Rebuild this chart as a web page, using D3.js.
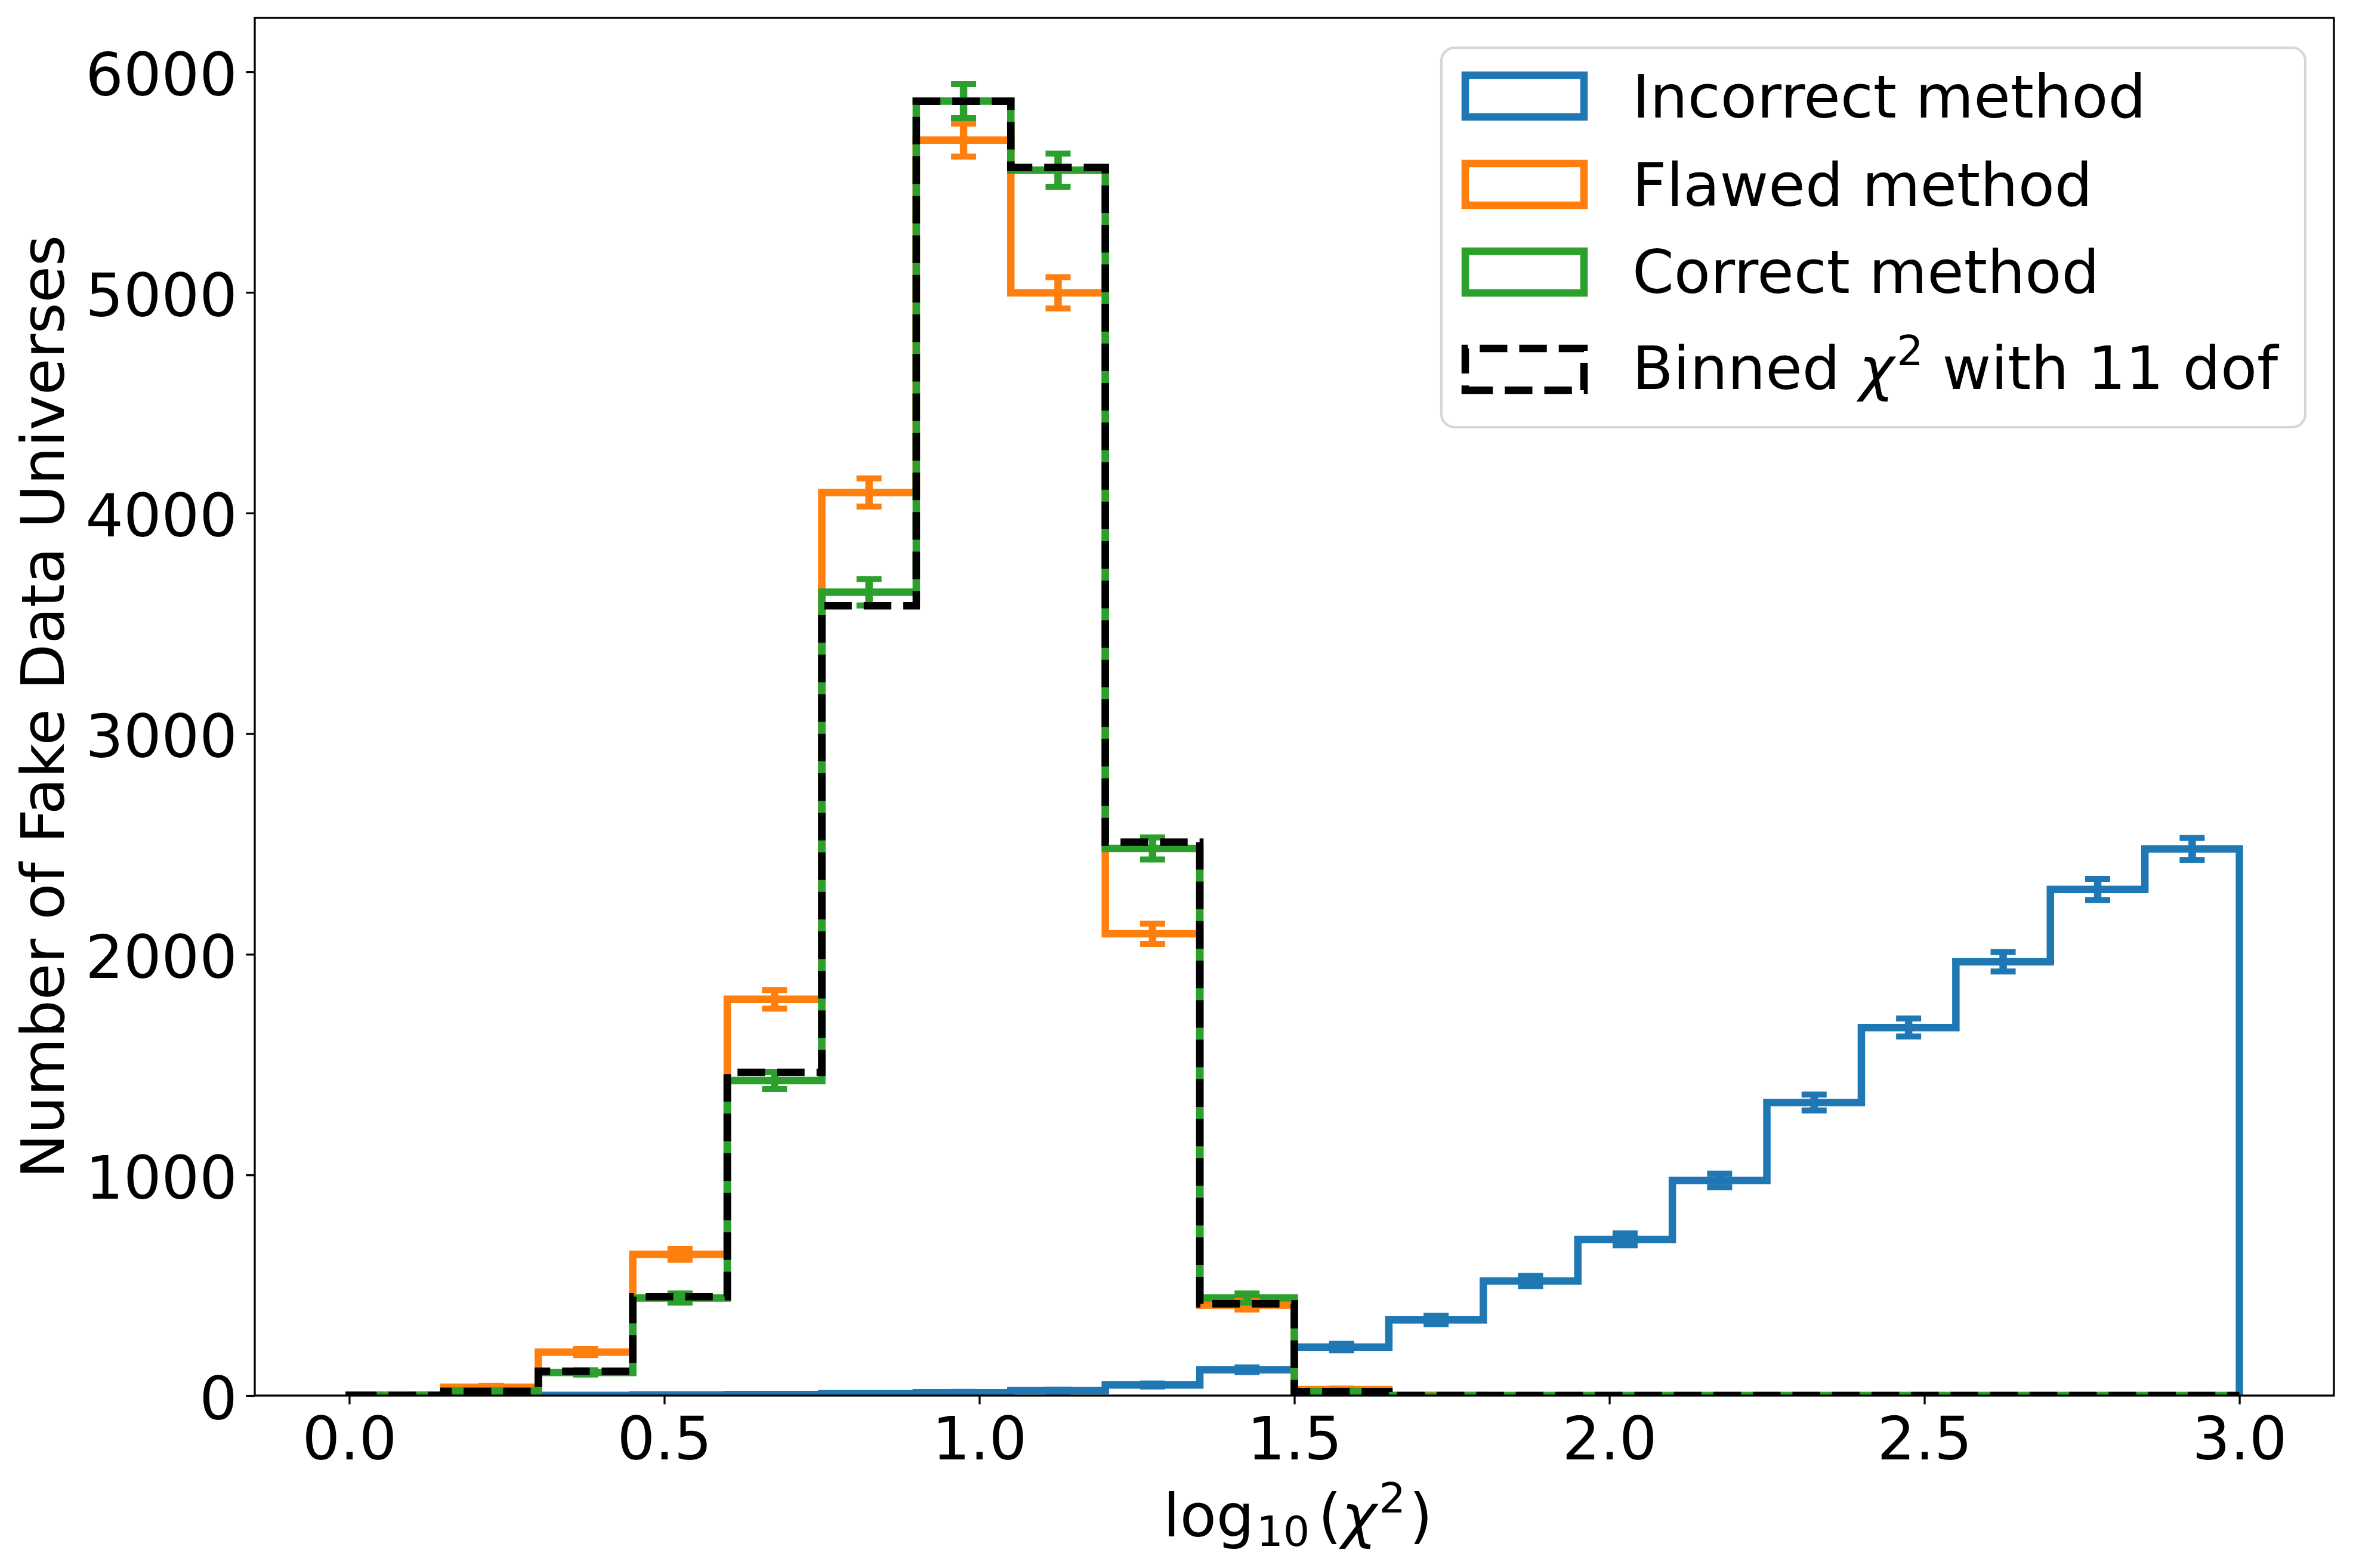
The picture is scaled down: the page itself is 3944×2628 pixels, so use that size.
<!DOCTYPE html>
<html>
<head>
<meta charset="utf-8">
<script src="https://cdn.jsdelivr.net/npm/d3@7"></script>
<style>
  body { margin: 0; background: #fff; }
  svg { display: block; font-family: "DejaVu Sans", sans-serif; }
</style>
</head>
<body>
<div id="chart"></div>
<script>
// bin edges of log10(chi^2)
const binEdges = [0, 0.15, 0.3, 0.45, 0.6, 0.75, 0.9, 1.05, 1.2, 1.35, 1.5,
  1.65, 1.8, 1.95, 2.1, 2.25, 2.4, 2.55, 2.7, 2.85, 3.0];

const incorrectCounts = [0, 0, 1, 3, 5, 8, 13, 22, 48, 117, 220, 343, 519, 708, 975, 1328, 1668, 1966, 2294, 2478];
const incorrectErr = [0, 0, 1, 2, 2, 3, 4, 5, 7, 11, 15, 19, 23, 27, 31, 36, 41, 44, 48, 50];

const flawedCounts = [3, 38, 197, 640, 1796, 4093, 5690, 4998, 2093, 410, 27, 1, 0, 0, 0, 0, 0, 0, 0, 0];
const flawedErr = [2, 6, 14, 25, 42, 64, 75, 71, 46, 20, 5, 1, 0, 0, 0, 0, 0, 0, 0, 0];

const correctCounts = [1, 20, 105, 442, 1428, 3641, 5867, 5554, 2480, 442, 18, 0, 0, 0, 0, 0, 0, 0, 0, 0];
const correctErr = [1, 4, 10, 21, 38, 60, 77, 75, 50, 21, 4, 0, 0, 0, 0, 0, 0, 0, 0, 0];

const binnedCounts = [1, 19, 110, 448, 1465, 3580, 5866, 5566, 2508, 416, 18, 0, 0, 0, 0, 0, 0, 0, 0, 0];

const xTicks = [0, 0.5, 1.0, 1.5, 2.0, 2.5, 3.0];
const yTicks = [0, 1000, 2000, 3000, 4000, 5000, 6000];

const seriesNames = ["Incorrect method", "Flawed method", "Correct method"];
const seriesColors = ["#1f77b4", "#ff7f0e", "#2ca02c"];

const width = 3944;
const height = 2628;
const plot = { left: 427, right: 3912, top: 30, bottom: 2339 };
const lw = 12.5;
const fontSize = 100;

const xScale = d3.scaleLinear().domain([-0.15, 3.15]).range([plot.left, plot.right]);
const yScale = d3.scaleLinear().domain([0, 6244]).range([plot.bottom, plot.top]);

const svg = d3
  .select("#chart")
  .append("svg")
  .attr("width", width)
  .attr("height", height);

svg.append("defs")
  .append("clipPath")
  .attr("id", "plot-clip")
  .append("rect")
  .attr("x", plot.left)
  .attr("y", plot.top)
  .attr("width", plot.right - plot.left)
  .attr("height", plot.bottom - plot.top);

// step outline like a matplotlib "step" histogram
const stepPoints = counts => {
  const pts = [[binEdges[0], 0]];
  counts.forEach((c, i) => {
    pts.push([binEdges[i], c]);
    pts.push([binEdges[i + 1], c]);
  });
  pts.push([binEdges[binEdges.length - 1], 0]);
  return pts;
};

const line = d3.line()
  .x(d => xScale(d[0]))
  .y(d => yScale(d[1]));

const plotArea = svg.append("g").attr("clip-path", "url(#plot-clip)");

const allCounts = [incorrectCounts, flawedCounts, correctCounts];
const allErrs = [incorrectErr, flawedErr, correctErr];

allCounts.forEach((counts, k) => {
  plotArea.append("path")
    .attr("d", line(stepPoints(counts)))
    .attr("fill", "none")
    .attr("stroke", seriesColors[k])
    .attr("stroke-width", lw)
    .attr("stroke-linejoin", "miter");
});

// error bars at bin centres
const capHalf = 21;
allCounts.forEach((counts, k) => {
  const g = plotArea.append("g").attr("stroke", seriesColors[k]);
  const bins = counts.map((c, i) => ({
    cx: (binEdges[i] + binEdges[i + 1]) / 2,
    c,
    e: allErrs[k][i]
  }));
  g.selectAll("line.err")
    .data(bins)
    .enter()
    .append("line")
    .attr("x1", d => xScale(d.cx))
    .attr("x2", d => xScale(d.cx))
    .attr("y1", d => yScale(d.c - d.e))
    .attr("y2", d => yScale(d.c + d.e))
    .attr("stroke-width", lw);
  ["lo", "hi"].forEach(side => {
    g.selectAll("line.cap-" + side)
      .data(bins)
      .enter()
      .append("line")
      .attr("x1", d => xScale(d.cx) - capHalf)
      .attr("x2", d => xScale(d.cx) + capHalf)
      .attr("y1", d => yScale(side === "lo" ? d.c - d.e : d.c + d.e))
      .attr("y2", d => yScale(side === "lo" ? d.c - d.e : d.c + d.e))
      .attr("stroke-width", 10);
  });
});

// expected binned chi2 distribution
plotArea.append("path")
  .attr("d", line(stepPoints(binnedCounts)))
  .attr("fill", "none")
  .attr("stroke", "#000")
  .attr("stroke-width", lw)
  .attr("stroke-dasharray", "46.25,20")
  .attr("stroke-linejoin", "miter");

// axes
const xAxis = d3.axisBottom(xScale)
  .tickValues(xTicks)
  .tickFormat(d3.format(".1f"))
  .tickSize(14.6)
  .tickPadding(14.6);

const yAxis = d3.axisLeft(yScale)
  .tickValues(yTicks)
  .tickFormat(d3.format("d"))
  .tickSize(14.6)
  .tickPadding(14.6);

const gx = svg.append("g")
  .attr("transform", `translate(0,${plot.bottom})`)
  .call(xAxis);
gx.select(".domain").remove();
gx.selectAll("line").attr("stroke-width", 3.3);
gx.selectAll("text")
  .attr("font-size", fontSize)
  .attr("font-family", "DejaVu Sans")
  .attr("fill", "#000")
  .attr("dy", "0.78em");

const gy = svg.append("g")
  .attr("transform", `translate(${plot.left},0)`)
  .call(yAxis);
gy.select(".domain").remove();
gy.selectAll("line").attr("stroke-width", 3.3);
gy.selectAll("text")
  .attr("font-size", fontSize)
  .attr("font-family", "DejaVu Sans")
  .attr("fill", "#000")
  .attr("dy", "0.39em");

// frame
svg.append("rect")
  .attr("x", plot.left)
  .attr("y", plot.top)
  .attr("width", plot.right - plot.left)
  .attr("height", plot.bottom - plot.top)
  .attr("fill", "none")
  .attr("stroke", "#000")
  .attr("stroke-width", 3.3);

// axis labels
svg.append("text")
  .attr("transform", `translate(107,${(plot.top + plot.bottom) / 2}) rotate(-90)`)
  .attr("text-anchor", "middle")
  .attr("font-size", fontSize)
  .text("Number of Fake Data Universes");

const xLabel = svg.append("text")
  .attr("x", (plot.left + plot.right) / 2 + 6)
  .attr("y", 2575)
  .attr("text-anchor", "middle")
  .attr("font-size", fontSize);
xLabel.append("tspan").text("log");
xLabel.append("tspan").attr("dx", 4).attr("dy", 16).attr("font-size", 70).text("10");
xLabel.append("tspan").attr("dx", 14).attr("dy", -16).text("(");
xLabel.append("tspan").attr("font-style", "italic").text("χ");
xLabel.append("tspan").attr("dx", 4).attr("dy", -40).attr("font-size", 70).text("2");
xLabel.append("tspan").attr("dx", 6).attr("dy", 40).text(")");

// legend
const legend = svg.append("g");
legend.append("rect")
  .attr("x", 2416)
  .attr("y", 80)
  .attr("width", 3864 - 2416)
  .attr("height", 716 - 80)
  .attr("rx", 22)
  .attr("fill", "#fff")
  .attr("fill-opacity", 0.8)
  .attr("stroke", "#cccccc")
  .attr("stroke-opacity", 0.8)
  .attr("stroke-width", 4.2);

const legendRows = [
  { name: seriesNames[0], color: seriesColors[0], top: 126, base: 197 },
  { name: seriesNames[1], color: seriesColors[1], top: 274, base: 344.5 },
  { name: seriesNames[2], color: seriesColors[2], top: 421, base: 491 },
  { name: null, color: "#000", top: 584, base: 651.6, dashed: true }
];

legendRows.forEach(r => {
  const x0 = 2456, x1 = 2655, y0 = r.top, y1 = r.top + 70;
  legend.append("path")
    .attr("d", `M${x0},${y1}H${x1}V${y0}H${x0}Z`)
    .attr("fill", "none")
    .attr("stroke", r.color)
    .attr("stroke-width", lw)
    .attr("stroke-linejoin", "miter")
    .attr("stroke-dasharray", r.dashed ? "46.25,20" : null);
  const t = legend.append("text")
    .attr("x", 2736)
    .attr("y", r.base)
    .attr("font-size", fontSize);
  if (r.name) {
    t.text(r.name);
  } else {
    t.append("tspan").text("Binned ");
    t.append("tspan").attr("font-style", "italic").text("χ");
    t.append("tspan").attr("dx", 4).attr("dy", -40).attr("font-size", 70).text("2");
    t.append("tspan").attr("dy", 40).text(" with 11 dof");
  }
});
</script>
</body>
</html>
